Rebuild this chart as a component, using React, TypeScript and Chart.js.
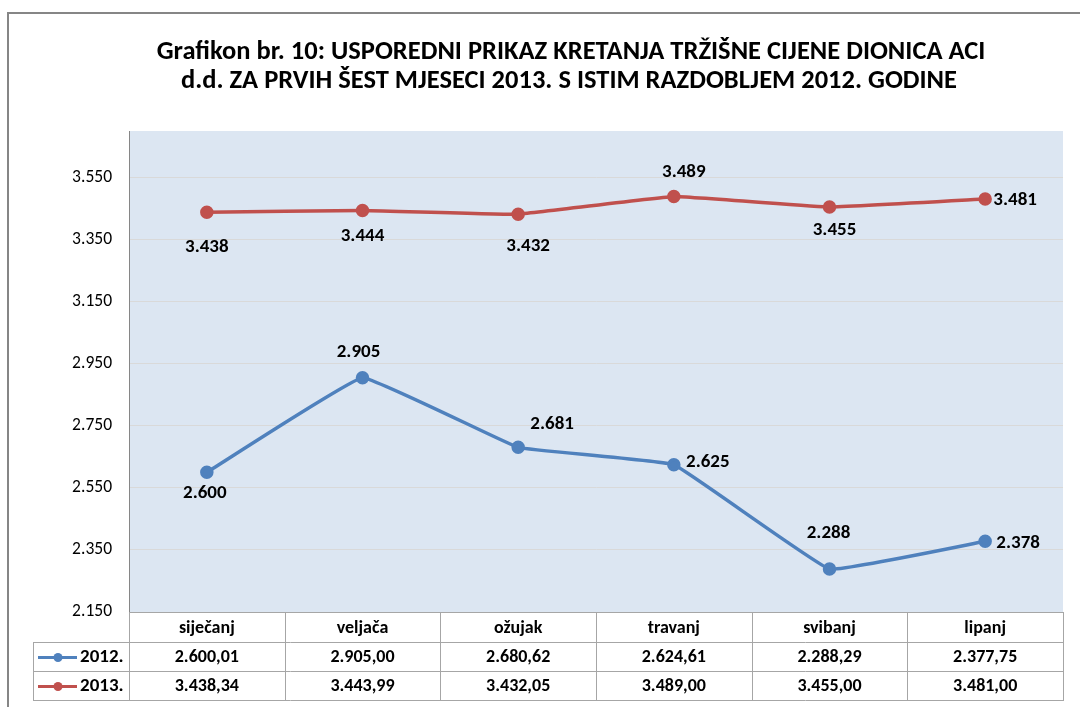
import React, { useEffect, useRef } from 'react';
import { Chart, registerables } from 'chart.js';

Chart.register(...registerables);

const CATEGORIES = ['siječanj', 'veljača', 'ožujak', 'travanj', 'svibanj', 'lipanj'];
const SERIES_2012 = [2600.01, 2905.0, 2680.62, 2624.61, 2288.29, 2377.75];
const SERIES_2013 = [3438.34, 3443.99, 3432.05, 3489.0, 3455.0, 3481.0];
const SERIES_NAMES = ['2012.', '2013.'];
const Y_TICKS = [2150, 2350, 2550, 2750, 2950, 3150, 3350, 3550];
const TITLE_LINES = [
  'Grafikon br. 10: USPOREDNI PRIKAZ KRETANJA TRŽIŠNE CIJENE DIONICA ACI',
  'd.d. ZA PRVIH ŠEST MJESECI 2013. S ISTIM RAZDOBLJEM 2012. GODINE',
];
// data-label offsets (dx, dy) from each point, as placed in the reference
const LABEL_OFFSETS_2012 = [[-2, 21], [-4, -25], [34, -23], [34, -2], [-1, -36], [33, 2]];
const LABEL_OFFSETS_2013 = [[0, 35], [0, 26], [10, 32], [10, -24], [5, 23], [30, 1]];

const BLUE = '#4F81BD';
const RED = '#C0504D';
const FONT = 'Carlito, Lato, "Open Sans", sans-serif';

function groupThousands(n: number): string {
  const s = String(Math.abs(n));
  return (n < 0 ? '-' : '') + s.replace(/\B(?=(\d{3})+(?!\d))/g, '.');
}
function fmtInt(v: number): string {
  return groupThousands(Math.round(v));
}
function fmtDec(v: number): string {
  const fixed = v.toFixed(2);
  const [i, d] = fixed.split('.');
  return groupThousands(parseInt(i, 10)) + ',' + d;
}

const decorPlugin = {
  id: 'decor',
  beforeDraw(chart: any) {
    const { ctx, chartArea: a, width } = chart;
    ctx.save();
    ctx.fillStyle = '#FFFFFF';
    ctx.fillRect(0, 0, chart.width, chart.height);
    ctx.fillStyle = '#DCE6F2';
    ctx.fillRect(a.left, a.top, a.right - a.left, a.bottom - a.top);
    // outer frame
    ctx.strokeStyle = '#868686';
    ctx.lineWidth = 2;
    ctx.beginPath();
    ctx.moveTo(8, chart.height + 2);
    ctx.lineTo(8, 13);
    ctx.lineTo(width + 2, 13);
    ctx.stroke();
    // title
    ctx.fillStyle = '#000000';
    ctx.font = `bold 26.5px ${FONT}`;
    ctx.textAlign = 'center';
    ctx.textBaseline = 'alphabetic';
    ctx.fillText(TITLE_LINES[0], 571, 59);
    ctx.fillText(TITLE_LINES[1], 569, 88);
    ctx.restore();
  },
  afterDraw(chart: any) {
    const { ctx, chartArea: a } = chart;
    const xs = chart.scales.x;
    const ys = chart.scales.y;
    ctx.save();
    // data labels
    ctx.fillStyle = '#000000';
    ctx.font = `bold 19px ${FONT}`;
    ctx.textAlign = 'center';
    ctx.textBaseline = 'middle';
    const drawLabels = (vals: number[], offs: number[][]) => {
      vals.forEach((v, i) => {
        const px = xs.getPixelForValue(i);
        const py = ys.getPixelForValue(v);
        ctx.fillText(fmtInt(v), px + offs[i][0], py + offs[i][1]);
      });
    };
    drawLabels(SERIES_2012, LABEL_OFFSETS_2012);
    drawLabels(SERIES_2013, LABEL_OFFSETS_2013);

    // data table
    const tableLeft = 33;
    const r0 = a.bottom;
    const r1 = r0 + 30;
    const r2 = r1 + 29;
    const r3 = r2 + 29;
    const colW = (a.right - a.left) / CATEGORIES.length;
    ctx.strokeStyle = '#A6A6A6';
    ctx.lineWidth = 1;
    const hline = (x1: number, x2: number, y: number) => {
      ctx.beginPath();
      ctx.moveTo(x1, Math.round(y) + 0.5);
      ctx.lineTo(x2, Math.round(y) + 0.5);
      ctx.stroke();
    };
    const vline = (x: number, y1: number, y2: number) => {
      ctx.beginPath();
      ctx.moveTo(Math.round(x) + 0.5, y1);
      ctx.lineTo(Math.round(x) + 0.5, y2);
      ctx.stroke();
    };
    hline(a.left, a.right, r0);
    hline(tableLeft, a.right, r1);
    hline(tableLeft, a.right, r2);
    hline(tableLeft, a.right, r3);
    vline(tableLeft, r1, r3 + 1);
    for (let k = 0; k <= CATEGORIES.length; k++) {
      vline(a.left + k * colW, r0, r3 + 1);
    }
    ctx.fillStyle = '#000000';
    ctx.textAlign = 'center';
    ctx.textBaseline = 'middle';
    ctx.font = `bold 18px ${FONT}`;
    CATEGORIES.forEach((c, i) => {
      ctx.fillText(c, xs.getPixelForValue(i), (r0 + r1) / 2 + 1);
    });
    const rows = [
      { vals: SERIES_2012, name: SERIES_NAMES[0], color: BLUE, top: r1, bot: r2 },
      { vals: SERIES_2013, name: SERIES_NAMES[1], color: RED, top: r2, bot: r3 },
    ];
    rows.forEach((row) => {
      const cy = (row.top + row.bot) / 2 + 1;
      ctx.font = `bold 18px ${FONT}`;
      row.vals.forEach((v, i) => {
        ctx.fillStyle = '#000000';
        ctx.textAlign = 'center';
        ctx.fillText(fmtDec(v), xs.getPixelForValue(i), cy);
      });
      // legend key
      ctx.strokeStyle = row.color;
      ctx.lineWidth = 3;
      ctx.beginPath();
      ctx.moveTo(38, cy);
      ctx.lineTo(77, cy);
      ctx.stroke();
      ctx.fillStyle = row.color;
      ctx.beginPath();
      ctx.arc(58, cy, 4.5, 0, Math.PI * 2);
      ctx.fill();
      ctx.fillStyle = '#000000';
      ctx.textAlign = 'left';
      ctx.font = `bold 19px ${FONT}`;
      ctx.fillText(row.name, 80, cy);
    });
    ctx.restore();
  },
};

export default function App() {
  const canvasRef = useRef<HTMLCanvasElement | null>(null);

  useEffect(() => {
    document.body.style.margin = '0';
    const canvas = canvasRef.current;
    if (!canvas) return;
    const chart = new Chart(canvas, {
      type: 'line',
      data: {
        labels: CATEGORIES,
        datasets: [
          {
            label: SERIES_NAMES[0],
            data: SERIES_2012,
            borderColor: BLUE,
            backgroundColor: BLUE,
            pointBackgroundColor: BLUE,
            pointBorderColor: BLUE,
            borderWidth: 3.5,
            pointRadius: 5,
            tension: 0.07,
          },
          {
            label: SERIES_NAMES[1],
            data: SERIES_2013,
            borderColor: RED,
            backgroundColor: RED,
            pointBackgroundColor: RED,
            pointBorderColor: RED,
            borderWidth: 3.5,
            pointRadius: 5,
            tension: 0.07,
          },
        ],
      },
      options: {
        responsive: false,
        animation: false,
        devicePixelRatio: 1,
        layout: { padding: { top: 131, bottom: 95, left: 0, right: 17 } },
        plugins: {
          legend: { display: false },
          title: { display: false },
          tooltip: { enabled: false },
        },
        scales: {
          x: {
            type: 'category',
            display: false,
            offset: true,
          },
          y: {
            min: 2150,
            max: 3700,
            afterBuildTicks: (s: any) => {
              s.ticks = Y_TICKS.map((v) => ({ value: v }));
            },
            afterFit: (s: any) => {
              s.width = 129;
            },
            grid: { color: '#D9D9D9', drawTicks: false, lineWidth: 1 },
            border: { color: '#868686', width: 1 },
            ticks: {
              padding: 17,
              color: '#000000',
              font: { family: FONT, size: 17.5 },
              callback: (v: any) => fmtInt(Number(v)),
            },
          },
        },
      },
      plugins: [decorPlugin],
    });
    return () => chart.destroy();
  }, []);

  return (
    <div style={{ position: 'absolute', left: 0, top: 0, width: 1080, height: 707 }}>
      <canvas ref={canvasRef} width={1080} height={707} style={{ width: 1080, height: 707, display: 'block' }} />
    </div>
  );
}
